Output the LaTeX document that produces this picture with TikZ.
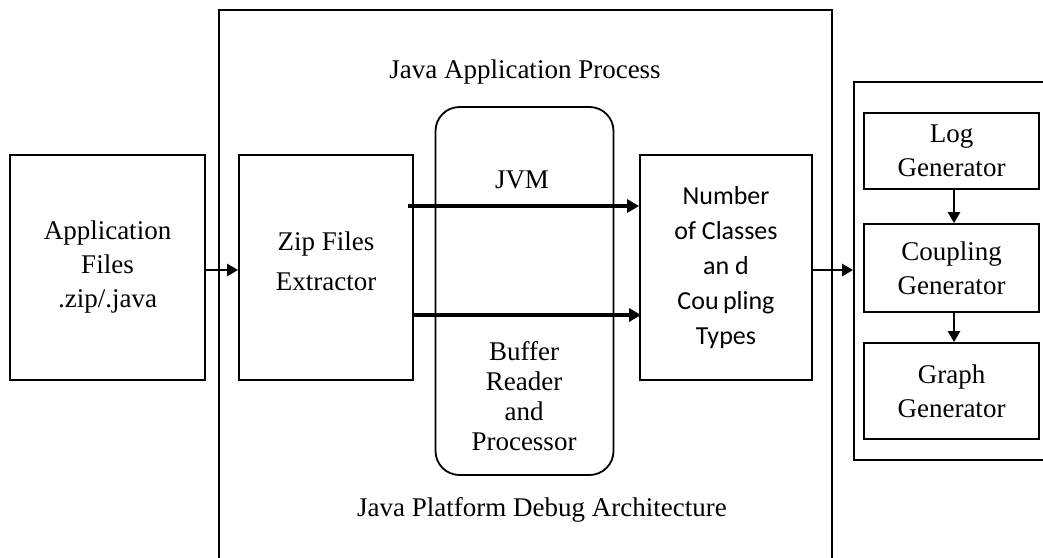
\documentclass[tikz,border=0pt]{standalone}
\usepackage{fontspec}
\setmainfont{Liberation Serif}
\newfontfamily\numfont{Carlito}
\usetikzlibrary{arrows.meta}
\begin{document}
\begin{tikzpicture}[x=1pt,y=-1pt,
  box/.style={draw, line width=1.8pt, rectangle, align=center, inner sep=0pt,
              font=\fontsize{27}{34}\selectfont},
  lbl/.style={align=center, inner sep=0pt, font=\fontsize{27}{34}\selectfont},
  thinarrow/.style={line width=2.6pt, -{Triangle[length=11pt,width=12pt]}},
  bigarrow/.style={line width=4.5pt, -{Triangle[length=12pt,width=13pt]}}]
\useasboundingbox (0,0) rectangle (1043,557);
\clip (0,0) rectangle (1043,557);

% outer containers (open beyond the page edges)
\node[box, minimum width=613, minimum height=570] (proc) at (525.5,295) {};
\node[box, minimum width=206, minimum height=378] (out) at (957,271) {};

% left input
\node[box, minimum width=195, minimum height=225] (app) at (107.5,267.5)
  {Application\\Files\\.zip/.java};

% inner stages
\node[box, minimum width=174, minimum height=225] (zip) at (326,267.5) {};
\node[lbl, font=\fontsize{27}{40}\selectfont] (ziptxt) at (326,261) {Zip Files\\Extractor};
\node[draw, line width=1.8pt, rounded corners=24pt, minimum width=178, minimum height=368,
      inner sep=0pt] (jvmbox) at (524.5,291) {};
\node[box, minimum width=172, minimum height=225,
      font=\numfont\fontsize{26}{35}\selectfont] (num) at (726,267.5)
  {Number\\of Classes\\an d\\Cou\,pling\\Types};

\node[lbl] (jvm) at (522,180) {JVM};
\node[lbl, font=\fontsize{27}{30}\selectfont] (buf) at (524,396)
  {Buffer\\Reader\\and\\Processor};

\node[lbl] (title) at (525,72) {Java Application Process};
\node[lbl] (jpda) at (542,510) {Java Platform Debug Architecture};

% output generators
\node[box, minimum width=175, minimum height=76] (log) at (951.5,151)
  {Log\\Generator};
\node[box, minimum width=175, minimum height=88] (cpl) at (951.5,268)
  {Coupling\\Generator};
\node[box, minimum width=175, minimum height=96] (gph) at (951.5,391)
  {Graph\\Generator};

% connectors
\coordinate (r1) at (0,206);
\coordinate (r2) at (0,315);
\draw[thinarrow] (app.east |- 0,270) -- (zip.west |- 0,270);
\draw[bigarrow] ([xshift=-6pt]zip.east |- r1) -- (num.west |- r1);
\draw[bigarrow] ([xshift=-1pt]zip.east |- r2) -- ([xshift=2pt]num.west |- r2);
\draw[thinarrow] (num.east |- 0,270) -- (out.west |- 0,270);
\draw[thinarrow] (log.south -| 954,0) -- (cpl.north -| 954,0);
\draw[thinarrow] (cpl.south -| 954,0) -- (gph.north -| 954,0);
\end{tikzpicture}
\end{document}
